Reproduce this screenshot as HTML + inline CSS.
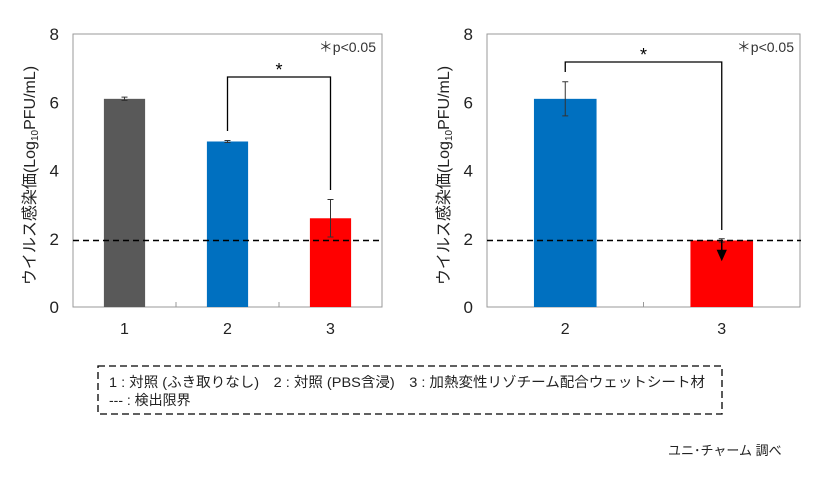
<!DOCTYPE html>
<html><head><meta charset="utf-8"><style>
body{margin:0;background:#fff;width:840px;height:474px;overflow:hidden;font-family:"Liberation Sans","Noto Sans CJK JP",sans-serif}
svg text{font-family:"Liberation Sans","Noto Sans CJK JP",sans-serif}
</style></head><body>
<svg id="s" width="840" height="474" xmlns="http://www.w3.org/2000/svg">
<g id="L"></g>
<g id="R"></g>
<rect x="98" y="366" width="624" height="48" fill="none" stroke="#000" stroke-width="1.3" stroke-dasharray="7,4"/>
<text x="109" y="387" font-size="14" textLength="596" lengthAdjust="spacingAndGlyphs" fill="#222">1 : 対照 (ふき取りなし)　2 : 対照 (PBS含浸)　3 : 加熱変性リゾチーム配合ウェットシート材</text>
<text x="109" y="405" font-size="14" fill="#222">--- : 検出限界</text>
<text x="668" y="455" font-size="13" fill="#222">ユニ･チャーム 調べ</text>
</svg>
<script>
const leftCats=["1","2","3"];
const leftVals=[6.1,4.85,2.6];
const leftErr=[0.05,0.03,0.55];
const rightCats=["2","3"];
const rightVals=[6.1,1.95];
const rightErr=[0.5,0.05];
const yTicks=[0,2,4,6,8];
const detectLimit=1.95;
const NS="http://www.w3.org/2000/svg";
function mk(p,t,a){const e=document.createElementNS(NS,t);for(const k in a)e.setAttribute(k,a[k]);p.appendChild(e);return e;}
function chart(g,x0,x1,cats,vals,errs,colors,barFrac,brk){
 const y0=307,y1=34;const ys=v=>y0-(v/8)*(y0-y1);const cw=(x1-x0)/cats.length;const xc=i=>x0+cw*(i+0.5);
 let e=mk(g,'rect',{x:x0,y:y1,width:x1-x0,height:y0-y1,fill:'none',stroke:'#999','stroke-width':1});
 
 yTicks.forEach(v=>{const t=mk(g,'text',{x:x0-14,y:ys(v)+6,'font-size':17,'text-anchor':'end',fill:'#222'});t.textContent=v;
  });
 for(let i=1;i<cats.length;i++){const l=mk(g,'line',{x1:x0+cw*i,x2:x0+cw*i,y1:y0,y2:y0-5,stroke:'#999'});}
 cats.forEach((c,i)=>{const bw=cw*barFrac;
  const b=mk(g,'rect',{x:xc(i)-bw/2,y:ys(vals[i]),width:bw,height:y0-ys(vals[i]),fill:colors[i]});
  
  const t=mk(g,'text',{x:xc(i),y:334,'font-size':16,'text-anchor':'middle',fill:'#222'});t.textContent=c;
  
  const hi=ys(vals[i]+errs[i]),lo=ys(vals[i]-errs[i]);
  const eg=mk(g,'path',{d:`M${xc(i)},${hi}V${lo}M${xc(i)-3},${hi}h6M${xc(i)-3},${lo}h6`,stroke:'#333',fill:'none','stroke-width':1});
  
 });
 const d=mk(g,'line',{x1:x0,x2:x1+1,y1:ys(detectLimit),y2:ys(detectLimit),stroke:'#000','stroke-width':1.5,'stroke-dasharray':'6,4'});
 
 const p=mk(g,'text',{x:x1-6,y:52,'font-size':14,'text-anchor':'end',fill:'#333'});p.textContent='＊p<0.05';
 
 const a=mk(g,'text',{transform:`translate(${x0-38},${(y0+y1)/2+5}) rotate(-90)`,'font-size':16,'text-anchor':'middle',fill:'#222'});
 a.innerHTML='ウイルス感染価(Log<tspan font-size="10" dy="3">10</tspan><tspan dy="-3">PFU/mL)</tspan>';
 
 const [i1,i2,top,l1,l2,arrow]=brk;
 const bp=mk(g,'path',{d:`M${xc(i1)},${l1}V${top}H${xc(i2)}V${l2}`,stroke:'#000',fill:'none','stroke-width':1.3});
 
 const st=mk(g,'text',{x:(xc(i1)+xc(i2))/2,y:top-1,'font-size':18,'text-anchor':'middle',fill:'#000'});st.textContent='*';
 
 if(arrow){const ar=mk(g,'path',{d:`M${xc(i2)},${ys(detectLimit)}V${ys(detectLimit)+12}M${xc(i2)-4},${ys(detectLimit)+10}l4,9l4,-9z`,stroke:'#000',fill:'#000','stroke-width':1.5});
  }
}
chart(document.getElementById('L'),73,382,leftCats,leftVals,leftErr,['#595959','#0070c0','#ff0000'],0.4,[1,2,77,131,190,false]);
chart(document.getElementById('R'),487,800,rightCats,rightVals,rightErr,['#0070c0','#ff0000'],0.4,[0,1,62,72,230,true]);
</script>
</body></html>
